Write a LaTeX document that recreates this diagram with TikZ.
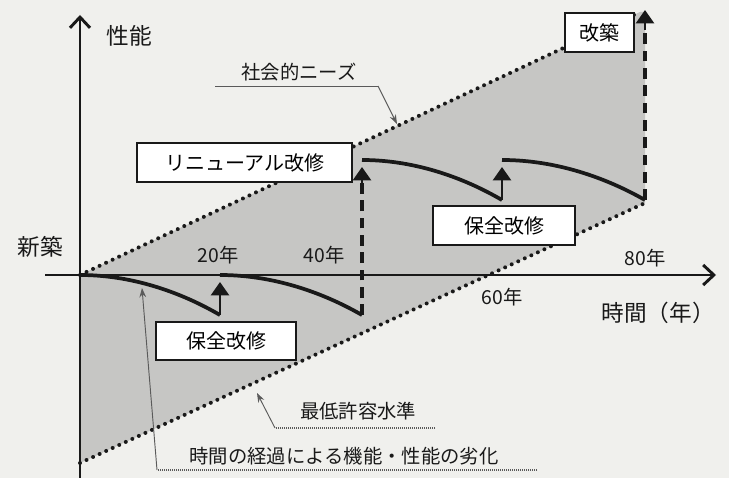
\documentclass[tikz,border=0pt]{standalone}
\usepackage{fontspec}
\setmainfont{Noto Sans CJK JP}
\usetikzlibrary{arrows.meta}
\definecolor{bgcol}{RGB}{240,240,237}
\definecolor{bandgray}{RGB}{198,198,196}
\definecolor{ink}{RGB}{25,25,25}
\definecolor{note}{RGB}{90,90,90}
\begin{document}
\begin{tikzpicture}[x=0.75pt,y=-0.75pt,
  axis/.style={line width=2.2pt,draw=ink},
  perf/.style={line width=2.8pt,draw=ink},
  limit/.style={line width=3pt,draw=ink,dash pattern=on 0pt off 5.4pt,line cap=round},
  bigdash/.style={line width=3pt,draw=ink,dash pattern=on 8pt off 5pt},
  upar/.style={line width=1.8pt,draw=ink,-{Triangle[width=13.5pt,length=10pt]}},
  labelbox/.style={draw=ink,fill=white,line width=1.1pt,inner sep=0pt,font=\fontsize{15pt}{17pt}\selectfont},
  lbl/.style={text=ink,inner sep=0pt,font=\fontsize{14.5pt}{16pt}\selectfont},
  notel/.style={draw=note,line width=0.7pt},
  notedot/.style={draw=note,line width=0.8pt,dash pattern=on 1pt off 0.5pt},
  notetip/.style={-{Stealth[length=7pt,width=5pt]}}
]
\fill[bgcol] (0,0) rectangle (729,478);
\useasboundingbox (0,0) rectangle (729,478);

% coordinates
\coordinate (O) at (80,275);
\coordinate (UE) at (640,12);
\coordinate (LS) at (80,463);
\coordinate (LE) at (645,203);
\coordinate (RT) at (645,12);

% shaded band
\fill[bandgray] (O) -- (UE) -- (RT) -- (LE) -- (LS) -- cycle;

% limits
\draw[limit] (O) -- (UE);
\draw[limit] (LS) -- (LE);

% axes
\coordinate (ybot) at (80,478);
\coordinate (ytop) at (80,15);
\coordinate (xl) at (45,275);
\coordinate (xr) at (716,275);
\draw[axis,-{Straight Barb[length=8pt,width=15pt,line width=2.2pt]}] (ybot) -- (ytop);
\draw[axis,-{Straight Barb[length=8pt,width=15pt,line width=2.2pt]}] (xl) -- (xr);

% performance curves
\coordinate (c1s) at (80,275);   \coordinate (c1e) at (220,315);
\coordinate (c2s) at (220,275);  \coordinate (c2e) at (362,315);
\coordinate (c3s) at (362,160);  \coordinate (c3e) at (502,200);
\coordinate (c4s) at (502,160);  \coordinate (c4e) at (645,200);
\draw[perf] (c1s) parabola (c1e);
\draw[perf] (c2s) parabola (c2e);
\draw[perf] (c3s) parabola (c3e);
\draw[perf] (c4s) parabola (c4e);

% repair arrows
\coordinate (a1) at (220,282);
\coordinate (a2) at (362,167);
\coordinate (a3) at (502,167);
\coordinate (a4) at (645,10);
\draw[upar] (c1e) -- (a1);
\draw[upar] (c3e) -- (a3);
\draw[bigdash] (c2e) -- (362,183);
\draw[upar] (362,184) -- (a2);
\draw[bigdash] (c4e) -- (645,28);
\draw[upar] (645,30) -- (a4);

% boxes
\node[labelbox,minimum width=161pt,minimum height=29pt] (renew) at (244.5,162.5) {リニューアル改修};
\node[labelbox,minimum width=52pt,minimum height=29pt] (rebuild) at (599.5,32.5) {改築};
\node[labelbox,minimum width=106.5pt,minimum height=29pt] (maint2) at (504,225.5) {保全改修};
\node[labelbox,minimum width=105pt,minimum height=28.5pt] (maint1) at (226,341) {保全改修};

% axis labels
\node[lbl,font=\fontsize{17pt}{19pt}\selectfont] (perfl) at (129,36) {性能};
\node[lbl,font=\fontsize{17pt}{19pt}\selectfont] (new) at (40,247) {新築};
\node[lbl,font=\fontsize{17pt}{19pt}\selectfont] (timel) at (658,313) {時間（年）};
\node[lbl] (y20) at (218,255) {20年};
\node[lbl] (y40) at (324,255) {40年};
\node[lbl] (y60) at (502,297) {60年};
\node[lbl] (y80) at (645,258) {80年};

% annotations
\node[lbl] (needs) at (299,72) {社会的ニーズ};
\coordinate (n1) at (215,86);
\coordinate (n2) at (378,86);
\coordinate (n3) at (397,124);
\draw[notel] (n1) -- (n2);
\draw[notel,notetip] (n2) -- (n3);

\node[lbl] (minlev) at (358,411) {最低許容水準};
\coordinate (m1) at (435,428);
\coordinate (m2) at (275,428);
\coordinate (m3) at (257,393);
\draw[notedot] (m1) -- (m2);
\draw[notel,notetip] (m2) -- (m3);

\node[lbl] (decay) at (344,456) {時間の経過による機能・性能の劣化};
\coordinate (d1) at (537,470);
\coordinate (d2) at (157,470);
\coordinate (d3) at (142,288);
\draw[notedot] (d1) -- (d2);
\draw[notel,notetip] (d2) -- (d3);
\end{tikzpicture}
\end{document}
